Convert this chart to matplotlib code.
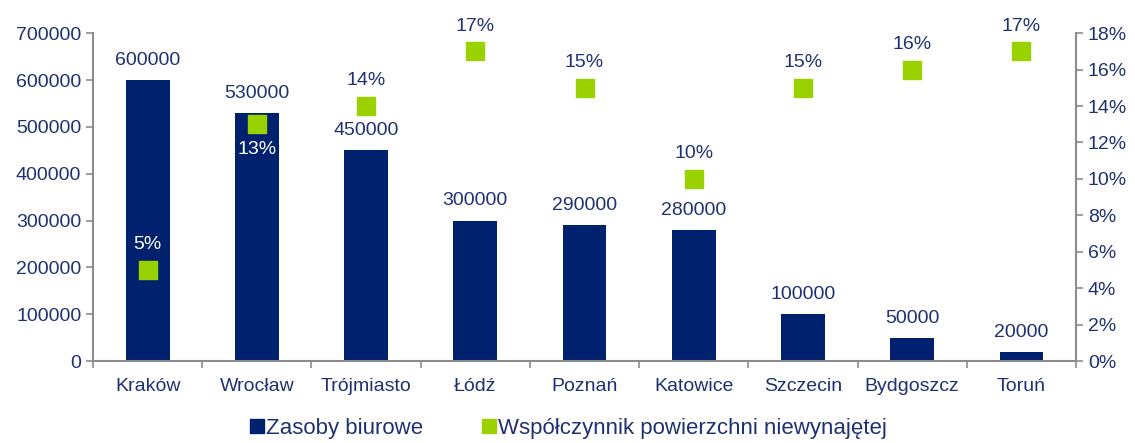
import matplotlib
matplotlib.use("Agg")
import matplotlib.pyplot as plt
from matplotlib.lines import Line2D
import numpy as np

plt.rcParams['font.family'] = ['Liberation Sans', 'DejaVu Sans']

cities = ["Kraków", "Wrocław", "Trójmiasto", "Łódź", "Poznań", "Katowice",
          "Szczecin", "Bydgoszcz", "Toruń"]
stock = [600000, 530000, 450000, 300000, 290000, 280000, 100000, 50000, 20000]
vacancy = [5, 13, 14, 17, 15, 10, 15, 16, 17]

navy = "#00226E"
green = "#99D200"
txt = "#1F3173"
grey = "#8C8C8C"
fs = 14

fig = plt.figure(figsize=(11.35, 4.43), dpi=100)
ax = fig.add_axes([0.082, 0.185, 0.866, 0.74])
x = np.arange(len(cities))
ax.bar(x, stock, width=0.4, color=navy, zorder=2)
ax.set_xlim(-0.5, len(cities) - 0.5)
ax.set_ylim(0, 700000)
ax.set_yticks(range(0, 700001, 100000))
ax.set_xticks(x)
ax.set_xticklabels(cities)
ax.set_xticks(np.arange(-0.5, len(cities)), minor=True)
ax.tick_params(axis='x', which='major', length=0, pad=12, labelsize=fs, labelcolor=txt)
ax.tick_params(axis='x', which='minor', length=5, color=grey, width=1.2)
ax.tick_params(axis='y', length=5, color=grey, width=1.2, labelsize=fs, labelcolor=txt)
for s in ["top", "right"]:
    ax.spines[s].set_visible(False)
for s in ["left", "bottom"]:
    ax.spines[s].set_color(grey)
    ax.spines[s].set_linewidth(1.5)

for xi, v in zip(x, stock):
    ax.annotate(str(v), (xi, v), xytext=(0, 8), textcoords="offset points",
                ha="center", va="bottom", fontsize=fs, color=txt)

ax2 = ax.twinx()
ax2.set_ylim(0, 18)
ax2.set_yticks(range(0, 19, 2))
ax2.set_yticklabels([f"{t}%" for t in range(0, 19, 2)])
ax2.tick_params(axis='y', length=5, color=grey, width=1.2, labelsize=fs, labelcolor=txt)
for s in ["top", "left", "bottom"]:
    ax2.spines[s].set_visible(False)
ax2.spines["right"].set_color(grey)
ax2.spines["right"].set_linewidth(1.5)
ax2.plot(x, vacancy, linestyle="none", marker="s", markersize=13,
         color=green, zorder=3)
for i, (xi, v) in enumerate(zip(x, vacancy)):
    if i == 1:
        ax2.annotate(f"{v}%", (xi, v), xytext=(0, -12), textcoords="offset points",
                     ha="center", va="top", fontsize=fs, color="white")
    else:
        ax2.annotate(f"{v}%", (xi, v), xytext=(0, 12), textcoords="offset points",
                     ha="center", va="bottom", fontsize=fs,
                     color="white" if i == 0 else txt)

handles = [Line2D([], [], linestyle="none", marker="s", markersize=10, color=navy),
           Line2D([], [], linestyle="none", marker="s", markersize=10, color=green)]
leg = fig.legend(handles, ["Zasoby biurowe", "Współczynnik powierzchni niewynajętej"],
                 loc="lower center", bbox_to_anchor=(0.5, -0.035), ncol=2, frameon=False,
                 fontsize=16, handletextpad=0.0, columnspacing=2.6, handlelength=0.8)
for t in leg.get_texts():
    t.set_color(txt)

fig.savefig("out.png", dpi=100)
